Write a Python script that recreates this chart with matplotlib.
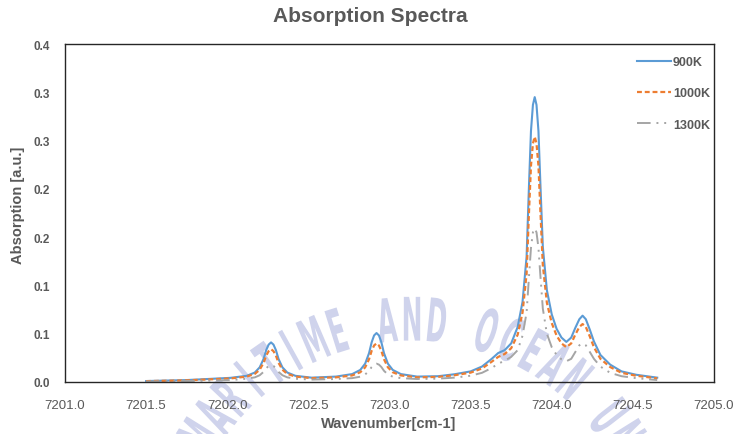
import numpy as np
import matplotlib
matplotlib.use('Agg')
import matplotlib.pyplot as plt
from matplotlib.textpath import TextPath
from matplotlib.patches import PathPatch
from matplotlib.font_manager import FontProperties
from matplotlib.transforms import Affine2D

plt.rcParams['font.family'] = ['Liberation Sans', 'DejaVu Sans']

# wavenumber grid [cm-1], shared by all three temperatures
wavenumber = [7201.50, 7201.75, 7202.02,
              7202.12, 7202.17, 7202.20, 7202.224, 7202.24, 7202.255, 7202.27,
              7202.285, 7202.30, 7202.316, 7202.34, 7202.37, 7202.42,
              7202.52,
              7202.67, 7202.77, 7202.82, 7202.85, 7202.874, 7202.89, 7202.905,
              7202.92, 7202.935, 7202.95, 7202.966, 7202.99, 7203.02, 7203.07,
              7203.17, 7203.30, 7203.40, 7203.50, 7203.57, 7203.63, 7203.67,
              7203.71, 7203.75,
              7203.79, 7203.82, 7203.845, 7203.86, 7203.872, 7203.884, 7203.895,
              7203.906, 7203.918, 7203.93, 7203.945, 7203.97, 7204.00,
              7204.03, 7204.06, 7204.09, 7204.12, 7204.145, 7204.17, 7204.19,
              7204.21, 7204.235, 7204.26, 7204.30, 7204.36, 7204.43, 7204.52, 7204.65]

abs_900k = [0.001, 0.002, 0.0043,
            0.0064, 0.0098, 0.0152, 0.0239, 0.033, 0.0387, 0.041,
            0.0387, 0.033, 0.0239, 0.0152, 0.0098, 0.0064,
            0.0045,
            0.0056, 0.0082, 0.0125, 0.019, 0.0299, 0.0411, 0.0482,
            0.0507, 0.0482, 0.0411, 0.0299, 0.019, 0.0125, 0.0082,
            0.0056, 0.006, 0.008, 0.011, 0.016, 0.024, 0.030,
            0.033, 0.040,
            0.057, 0.083, 0.13, 0.205, 0.26, 0.287, 0.295,
            0.287, 0.26, 0.205, 0.14, 0.095, 0.070,
            0.055, 0.046, 0.0415, 0.046, 0.056, 0.065, 0.0687,
            0.065, 0.054, 0.042, 0.028, 0.018, 0.011, 0.0075, 0.0045]

abs_1000k = [0.0009, 0.0017, 0.0037,
             0.0056, 0.0084, 0.0127, 0.0199, 0.0273, 0.0319, 0.034,
             0.0319, 0.0273, 0.0199, 0.0127, 0.0084, 0.0056,
             0.004,
             0.0048, 0.0068, 0.0101, 0.0152, 0.0236, 0.0323, 0.0378,
             0.040, 0.0378, 0.0323, 0.0236, 0.0152, 0.0101, 0.0068,
             0.0048, 0.0053, 0.007, 0.0097, 0.014, 0.021, 0.026,
             0.029, 0.035,
             0.049, 0.072, 0.112, 0.177, 0.224, 0.247, 0.254,
             0.247, 0.224, 0.177, 0.121, 0.082, 0.061,
             0.048, 0.040, 0.036, 0.040, 0.049, 0.057, 0.060,
             0.057, 0.047, 0.036, 0.024, 0.0155, 0.0095, 0.0065, 0.0038]

abs_1300k = [0.0005, 0.001, 0.002,
             0.0034, 0.0048, 0.0070, 0.0105, 0.0142, 0.0166, 0.0175,
             0.0166, 0.0142, 0.0105, 0.0070, 0.0048, 0.0034,
             0.0025,
             0.0031, 0.004, 0.0055, 0.0078, 0.0116, 0.0155, 0.018,
             0.019, 0.018, 0.0155, 0.0116, 0.0078, 0.0055, 0.004,
             0.0031, 0.0035, 0.0045, 0.0065, 0.0095, 0.0145, 0.019,
             0.022, 0.026,
             0.033, 0.048, 0.072, 0.110, 0.139, 0.155, 0.159,
             0.155, 0.139, 0.110, 0.076, 0.050, 0.036,
             0.028, 0.0235, 0.0215, 0.024, 0.031, 0.038, 0.040,
             0.038, 0.031, 0.024, 0.016, 0.0095, 0.006, 0.004, 0.002]

series_labels = ['900K', '1000K', '1300K']
x_ticks = [7201.0, 7201.5, 7202.0, 7202.5, 7203.0, 7203.5, 7204.0, 7204.5, 7205.0]
y_ticks = [0.0, 0.05, 0.10, 0.15, 0.20, 0.25, 0.30, 0.35]
y_tick_labels = ['0.0', '0.1', '0.1', '0.2', '0.2', '0.3', '0.3', '0.4']
seal_text = 'KOREA MARITIME AND OCEAN UNIVERSITY'

W, H = 737, 435
GREY = '#595959'

fig = plt.figure(figsize=(W / 100, H / 100), dpi=100)
ax = fig.add_axes([65 / W, 52 / H, 649 / W, 338 / H])
ax.set_facecolor('none')

# university seal watermark, letters laid along an arc behind the chart
fp = FontProperties(family='DejaVu Sans', weight='bold')
cx, cy, R, step = 412, 570, 250, 5.8
mid = seal_text.index('AND') + 1
for i, ch in enumerate(seal_text):
    if ch == ' ':
        continue
    theta = (i - mid) * step
    px = cx + R * np.sin(np.radians(theta))
    py = cy - R * np.cos(np.radians(theta))
    if py > H + 50:
        continue
    tp = TextPath((0, 0), ch, size=50, prop=fp)
    ext = tp.get_extents()
    tr = (Affine2D().translate(-(ext.x0 + ext.x1) / 2, -18)
          .scale(0.5, 1.2).rotate_deg(-theta).translate(px, H - py))
    fig.add_artist(PathPatch(tp, transform=tr, facecolor='#cfd3ec',
                             edgecolor='none', zorder=-1))

ax.plot(wavenumber, abs_900k, color='#5B9BD5', lw=1.5, label=series_labels[0])
ax.plot(wavenumber, abs_1000k, color='#ED7D31', lw=1.6, dashes=(2.2, 1.3),
        label=series_labels[1])
ax.plot(wavenumber, abs_1300k, color='#A5A5A5', lw=1.4, dashes=(7, 3, 1, 3, 1, 3),
        label=series_labels[2])

ax.set_xlim(7201.0, 7205.0)
ax.set_ylim(0, 0.35)
ax.set_xticks(x_ticks)
ax.set_xticklabels([f'{v:.1f}' for v in x_ticks], fontsize=9.5, color=GREY)
ax.set_yticks(y_ticks)
ax.set_yticklabels(y_tick_labels, fontsize=8.5, color=GREY, fontweight='bold')
ax.tick_params(length=0)
ax.tick_params(axis='x', pad=12)
ax.tick_params(axis='y', pad=11)
for side in ['left', 'bottom', 'top', 'right']:
    ax.spines[side].set_color('#262626')
    ax.spines[side].set_linewidth(1.0)

fig.text(0.503, 1 - 16 / H, 'Absorption Spectra', ha='center', va='center',
         fontsize=15, fontweight='bold', color=GREY)
fig.text(18 / W, 1 - 205 / H, 'Absorption [a.u.]', rotation=90, ha='center',
         va='center', fontsize=10.5, fontweight='bold', color=GREY)
fig.text(389 / W, 1 - 424 / H, 'Wavenumber[cm-1]', ha='center', va='center',
         fontsize=10.5, fontweight='bold', color=GREY)

leg = ax.legend(loc='upper right', bbox_to_anchor=(710 / W, 1 - 57 / H),
                bbox_transform=fig.transFigure, frameon=False, fontsize=9,
                handlelength=2.7, handletextpad=0.15, labelspacing=1.55,
                borderpad=0, borderaxespad=0)
for t in leg.get_texts():
    t.set_color(GREY)
    t.set_fontweight('bold')

fig.savefig('out.png', dpi=100)
